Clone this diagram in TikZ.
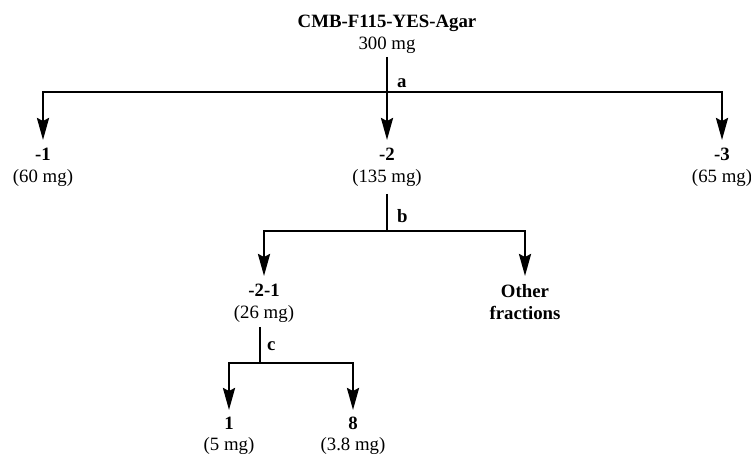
\documentclass[tikz,border=0pt]{standalone}
\usepackage{fontspec}
\setmainfont{Liberation Serif}
\usetikzlibrary{arrows.meta}
\begin{document}
\begin{tikzpicture}[x=1pt,y=-1pt,
  every node/.style={font=\fontsize{18.8}{22}\selectfont, inner sep=0pt, align=center},
  lbl/.style={anchor=north},
  conn/.style={line width=2.6pt},
  arr/.style={conn, -{Stealth[length=22pt,width=12pt,inset=3pt]}, shorten >=8pt},
  tag/.style={font=\fontsize{18.8}{22}\selectfont\bfseries, anchor=base west}]
\useasboundingbox (0,0) rectangle (751,456);
% nodes
\node[lbl] (root) at (387,15) {\textbf{CMB-F115-YES-Agar}\\300 mg};
\node[lbl] (n1) at (43,148) {\textbf{-1}\\(60 mg)};
\node[lbl] (n2) at (387,148) {\textbf{-2}\\(135 mg)};
\node[lbl] (n3) at (722,148) {\textbf{-3}\\(65 mg)};
\node[lbl] (n21) at (264,284) {\textbf{-2-1}\\(26 mg)};
\node[lbl] (oth) at (525,284) {\textbf{Other}\\\textbf{fractions}};
\node[lbl, font=\fontsize{18.8}{21}\selectfont] (c1) at (229,417) {\textbf{1}\\(5 mg)};
\node[lbl, font=\fontsize{18.8}{21}\selectfont] (c8) at (353,417) {\textbf{8}\\(3.8 mg)};
% junctions
\coordinate (ja) at (387,92);
\coordinate (jb) at (387,231);
\coordinate (jc) at (260,363);
% connectors
\draw[conn, shorten <=3pt] (root.south) -- (ja);
\draw[arr] (ja) -| (n1.north);
\draw[arr] (ja) -- (n2.north);
\draw[arr] (ja) -| (n3.north);
\draw[conn, shorten <=7pt] (n2.south) -- (jb);
\draw[arr] (jb) -| (n21.north);
\draw[arr] (jb) -| (oth.north);
\draw[conn, shorten <=4pt] (n21.south -| jc) -- (jc);
\draw[arr, shorten >=7pt] (jc) -| (c1.north);
\draw[arr, shorten >=7pt] (jc) -| (c8.north);
% step labels
\node[tag] (la) at (397,87) {a};
\node[tag] (lb) at (397,222) {b};
\node[tag] (lc) at (267,350) {c};
\end{tikzpicture}
\end{document}
